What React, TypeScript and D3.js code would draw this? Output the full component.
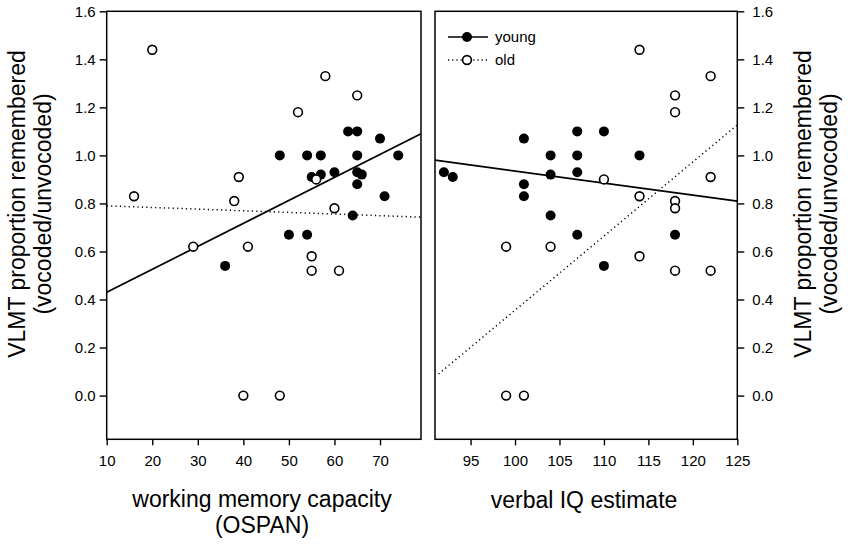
import React, { useEffect, useRef } from 'react';
import * as d3 from 'd3';

// left panel: working memory capacity (OSPAN)
const ospanYoung = [48, 54, 57, 55, 57, 60, 63, 65, 65, 65, 66, 65, 70, 74, 71, 64, 50, 54, 36];
const vlmtYoungL = [1.0, 1.0, 1.0, 0.91, 0.92, 0.93, 1.1, 1.1, 1.0, 0.93, 0.92, 0.88, 1.07, 1.0, 0.83, 0.75, 0.67, 0.67, 0.54];
const ospanOld = [20, 16, 38, 39, 52, 58, 65, 56, 60, 29, 41, 55, 55, 61, 40, 48];
const vlmtOldL = [1.44, 0.83, 0.81, 0.91, 1.18, 1.33, 1.25, 0.9, 0.78, 0.62, 0.62, 0.58, 0.52, 0.52, 0, 0];

// right panel: verbal IQ estimate
const iqYoung = [92, 93, 101, 101, 101, 104, 104, 104, 107, 107, 107, 107, 110, 110, 114, 118];
const vlmtYoungR = [0.93, 0.91, 1.07, 0.88, 0.83, 1.0, 0.92, 0.75, 1.1, 1.0, 0.93, 0.67, 1.1, 0.54, 1.0, 0.67];
const iqOld = [114, 122, 118, 118, 110, 122, 114, 118, 118, 99, 104, 114, 118, 122, 99, 101];
const vlmtOldR = [1.44, 1.33, 1.25, 1.18, 0.9, 0.91, 0.83, 0.81, 0.78, 0.62, 0.62, 0.58, 0.52, 0.52, 0, 0];

// regression line end points [x0, x1], [y0, y1]
const fitOspanYoungX = [10, 79];
const fitOspanYoungY = [0.43, 1.09];
const fitOspanOldX = [10, 79];
const fitOspanOldY = [0.79, 0.743];
const fitIqYoungX = [91, 125];
const fitIqYoungY = [0.98, 0.81];
const fitIqOldX = [91.4, 125];
const fitIqOldY = [0.09, 1.127];

const ospanTicks = [10, 20, 30, 40, 50, 60, 70];
const iqTicks = [95, 100, 105, 110, 115, 120, 125];
const yTicks = [0, 0.2, 0.4, 0.6, 0.8, 1.0, 1.2, 1.4, 1.6];

const legendLabels = ['young', 'old'];

const FONT = 'Arial, "Liberation Sans", Helvetica, sans-serif';

const App: React.FC = () => {
    const svgRef = useRef<SVGSVGElement>(null);

    useEffect(() => {
        if (!svgRef.current) return;
        const svg = d3.select(svgRef.current);
        svg.selectAll('*').remove();

        const y = d3.scaleLinear().domain([-0.182, 1.6]).range([439.3, 11.3]);
        const xL = d3.scaleLinear().domain([10, 79]).range([106.7, 421]);
        const xR = d3.scaleLinear().domain([91, 125]).range([435, 737.3]);

        const drawPanel = (
            x: d3.ScaleLinear<number, number>,
            ticks: number[],
            yx: number[], yy: number[],
            ox: number[], oy: number[],
            fyx: number[], fyy: number[],
            fox: number[], foy: number[],
            yAxisRight: boolean,
        ) => {
            const g = svg.append('g');
            const [x0, x1] = x.range();
            const [yb, yt] = y.range();

            // regression lines
            const line = d3.line<number>()
                .x((_, i) => x(fyx[i]))
                .y(d => y(d));
            g.append('path')
                .attr('d', line(fyy))
                .attr('fill', 'none')
                .attr('stroke', '#000')
                .attr('stroke-width', 1.7);
            const lineO = d3.line<number>()
                .x((_, i) => x(fox[i]))
                .y(d => y(d));
            g.append('path')
                .attr('d', lineO(foy))
                .attr('fill', 'none')
                .attr('stroke', '#000')
                .attr('stroke-width', 1.5)
                .attr('stroke-dasharray', '1.2,3.2');

            // young: filled
            g.selectAll('.young')
                .data(yx)
                .enter()
                .append('circle')
                .attr('cx', d => x(d))
                .attr('cy', (_, i) => y(yy[i]))
                .attr('r', 5)
                .attr('fill', '#000');

            // old: open
            g.selectAll('.old')
                .data(ox)
                .enter()
                .append('circle')
                .attr('cx', d => x(d))
                .attr('cy', (_, i) => y(oy[i]))
                .attr('r', 4.4)
                .attr('fill', '#fff')
                .attr('stroke', '#000')
                .attr('stroke-width', 1.6);

            // frame
            g.append('rect')
                .attr('x', x0)
                .attr('y', yt)
                .attr('width', x1 - x0)
                .attr('height', yb - yt)
                .attr('fill', 'none')
                .attr('stroke', '#000')
                .attr('stroke-width', 1.5);

            // x axis
            const xAxis = d3.axisBottom(x)
                .tickValues(ticks)
                .tickSize(6)
                .tickPadding(10)
                .tickFormat(d3.format('d'));
            const ax = g.append('g')
                .attr('transform', `translate(0,${yb})`)
                .call(xAxis);
            ax.select('.domain').remove();
            ax.selectAll('line').attr('stroke-width', 1.4);
            ax.selectAll('text')
                .style('font-family', FONT)
                .style('font-size', '15px')
                .attr('fill', '#000');

            // y axis
            const yAxis = (yAxisRight ? d3.axisRight(y) : d3.axisLeft(y))
                .tickValues(yTicks)
                .tickSize(7)
                .tickPadding(yAxisRight ? 8 : 4)
                .tickFormat(d3.format('.1f'));
            const ay = g.append('g')
                .attr('transform', `translate(${yAxisRight ? x1 : x0},0)`)
                .call(yAxis);
            ay.select('.domain').remove();
            ay.selectAll('line').attr('stroke-width', 1.4);
            ay.selectAll('text')
                .style('font-family', FONT)
                .style('font-size', '15px')
                .attr('fill', '#000');
        };

        drawPanel(xL, ospanTicks, ospanYoung, vlmtYoungL, ospanOld, vlmtOldL,
            fitOspanYoungX, fitOspanYoungY, fitOspanOldX, fitOspanOldY, false);
        drawPanel(xR, iqTicks, iqYoung, vlmtYoungR, iqOld, vlmtOldR,
            fitIqYoungX, fitIqYoungY, fitIqOldX, fitIqOldY, true);

        // axis titles
        const title = (tx: number, ty: number, lines: string[], rotate: boolean) => {
            const t = svg.append('text')
                .attr('transform', `translate(${tx},${ty})${rotate ? ' rotate(-90)' : ''}`)
                .attr('text-anchor', 'middle')
                .style('font-family', FONT)
                .style('font-size', '23px')
                .attr('fill', '#000');
            lines.forEach((s, i) => {
                t.append('tspan')
                    .attr('x', 0)
                    .attr('dy', i === 0 ? 0 : 26)
                    .text(s);
            });
        };
        title(262, 507, ['working memory capacity', '(OSPAN)'], false);
        title(584, 508, ['verbal IQ estimate'], false);
        title(25, 204, ['VLMT proportion remembered', '(vocoded/unvocoded)'], true);
        title(811, 204, ['VLMT proportion remembered', '(vocoded/unvocoded)'], true);

        // legend
        const lg = svg.append('g').attr('transform', 'translate(448,0)');
        const rows = [37, 60];
        legendLabels.forEach((lab, i) => {
            const row = lg.append('g').attr('transform', `translate(0,${rows[i]})`);
            row.append('line')
                .attr('x1', 0).attr('x2', 40)
                .attr('stroke', '#000')
                .attr('stroke-width', i === 0 ? 1.5 : 1.3)
                .attr('stroke-dasharray', i === 0 ? null : '1.2,3');
            row.append('circle')
                .attr('cx', 19)
                .attr('r', i === 0 ? 5 : 4.4)
                .attr('fill', i === 0 ? '#000' : '#fff')
                .attr('stroke', '#000')
                .attr('stroke-width', i === 0 ? 0 : 1.6);
            row.append('text')
                .attr('x', 47)
                .attr('dy', '0.35em')
                .style('font-family', FONT)
                .style('font-size', '15px')
                .attr('fill', '#000')
                .text(lab);
        });
    }, []);

    return (
        <div style={{ position: 'absolute', left: 0, top: 0, background: '#fff' }}>
            <svg ref={svgRef} width={850} height={546}></svg>
        </div>
    );
};

export default App;
